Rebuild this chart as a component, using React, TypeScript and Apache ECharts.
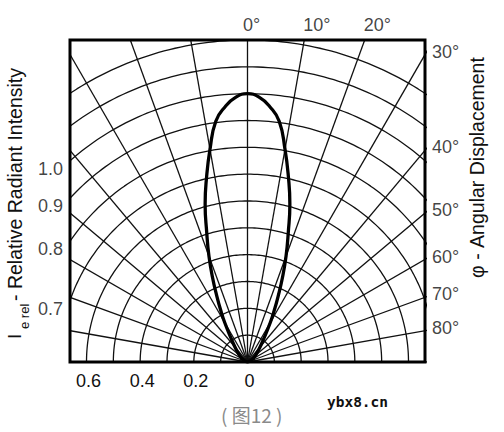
import React, { useEffect, useRef } from "react";
import * as echarts from "echarts";

// ---- data ----
const radii = [0.1, 0.2, 0.3, 0.4, 0.5, 0.6, 0.7, 0.8, 0.9, 1.0, 1.1, 1.2];
const angleTicks = [-90, -80, -70, -60, -50, -40, -30, -20, -10, 0, 10, 20, 30, 40, 50, 60, 70, 80, 90];
const lobeAngles = [0, 2.5, 5, 7.5, 10, 12.5, 15, 17.5, 20, 22.5, 25, 27.5, 30, 35, 40, 45, 50, 60, 75, 90];
const lobeIntensity = [1.0, 0.988, 0.955, 0.905, 0.805, 0.705, 0.61, 0.505, 0.42, 0.34, 0.27, 0.215, 0.17, 0.105, 0.072, 0.052, 0.04, 0.022, 0.008, 0];
const leftLabels = [1.0, 0.9, 0.8, 0.7];
const bottomLabels = [0.6, 0.4, 0.2, 0];
const topAngleLabels = [0, 10, 20];
const rightAngleLabels = [30, 40, 50, 60, 70, 80];

const XR = 0.6615;
const YR = 1.2;
const rad = (d: number) => (d * Math.PI) / 180;
const pol = (r: number, deg: number) => [r * Math.sin(rad(deg)), r * Math.cos(rad(deg))];

export default function App() {
  const ref = useRef<HTMLDivElement>(null);
  useEffect(() => {
    if (!ref.current) return;
    const chart = echarts.init(ref.current, undefined, { renderer: "svg" });

    const series: any[] = [];
    // arcs
    radii.forEach((r) => {
      const pts: number[][] = [];
      for (let a = -90; a <= 90; a += 1) pts.push(pol(r, a));
      series.push({
        type: "line", data: pts, symbol: "none", silent: true, clip: true,
        lineStyle: { color: "#111", width: 1.3 }, z: 2,
      });
    });
    // radial lines
    angleTicks.forEach((a) => {
      series.push({
        type: "line", data: [[0, 0], pol(2, a)], symbol: "none", silent: true, clip: true,
        lineStyle: { color: "#111", width: 1.3 }, z: 2,
      });
    });
    // lobe
    const lobe: number[][] = [];
    for (let i = lobeAngles.length - 1; i > 0; i--) lobe.push(pol(lobeIntensity[i], -lobeAngles[i]));
    for (let i = 0; i < lobeAngles.length; i++) lobe.push(pol(lobeIntensity[i], lobeAngles[i]));
    series.push({
      type: "line", data: lobe, symbol: "none", smooth: 0.5, clip: true,
      lineStyle: { color: "#000", width: 3.3 }, z: 5,
    });
    const labelFont = { fontSize: 18, color: "#111", fontFamily: "Liberation Sans, Arial, sans-serif" };
    // left intensity labels
    series.push({
      type: "scatter", symbolSize: 0, clip: false, silent: true,
      data: leftLabels.map((v) => ({
        value: [-XR, Math.sqrt(Math.max(0, v * v - XR * XR))],
        label: { show: true, position: "left", distance: 7, offset: [0, 8], formatter: v.toFixed(1), ...labelFont },
      })),
    });
    // top angle labels
    series.push({
      type: "scatter", symbolSize: 0, clip: false, silent: true,
      data: topAngleLabels.map((a) => ({
        value: [YR * Math.tan(rad(a)), YR],
        label: { show: true, position: "top", distance: 6, align: "left", offset: [a === 0 ? -4.5 : -1, 0], formatter: a + "°", ...labelFont },
      })),
    });
    // right angle labels
    series.push({
      type: "scatter", symbolSize: 0, clip: false, silent: true,
      data: rightAngleLabels.map((a) => ({
        value: [XR, XR / Math.tan(rad(a))],
        label: { show: true, position: "right", distance: 7, offset: [0, -3], formatter: a + "°", ...labelFont },
      })),
    });

    chart.setOption({
      animation: false,
      backgroundColor: "#fff",
      grid: { left: 70, top: 40, width: 355, height: 322, show: true, borderColor: "#000", borderWidth: 3, backgroundColor: "transparent", z: 10 },
      xAxis: {
        type: "value", min: -XR, max: XR,
        axisLine: { show: false }, axisTick: { show: false }, splitLine: { show: false },
        axisLabel: {
          customValues: bottomLabels.map((v) => -v),
          formatter: (v: number) => String(Math.abs(Math.round(v * 10) / 10)),
          margin: 10, padding: [0, 0, 0, 4], ...labelFont,
        },
      },
      yAxis: { type: "value", min: 0, max: YR, show: false },
      graphic: [
        { type: "text", x: 14.5, y: 339, rotation: Math.PI / 2, style: { text: "I", fontSize: 19, fill: "#111", fontFamily: "Liberation Sans, Arial, sans-serif", align: "left", verticalAlign: "middle" } },
        { type: "text", x: 24.5, y: 329, rotation: Math.PI / 2, style: { text: "e rel", fontSize: 13, fill: "#111", fontFamily: "Liberation Sans, Arial, sans-serif", align: "left", verticalAlign: "middle" } },
        { type: "text", x: 14.5, y: 301, rotation: Math.PI / 2, style: { text: "- Relative Radiant Intensity", fontSize: 19.5, fill: "#111", fontFamily: "Liberation Sans, Arial, sans-serif", align: "left", verticalAlign: "middle" } },
        { type: "text", x: 476.5, y: 167.5, rotation: Math.PI / 2, style: { text: "φ - Angular Displacement", fontSize: 19.5, fill: "#111", fontFamily: "Liberation Sans, Arial, sans-serif", align: "center", verticalAlign: "middle" } },
        { type: "text", x: 251.7, y: 414, style: { text: "( 图12 )", fontSize: 19, fill: "#8a8a8a", fontFamily: "Noto Sans CJK SC", align: "center", verticalAlign: "middle" } },
        { type: "text", x: 357.5, y: 402, style: { text: "ybx8.cn", fontSize: 14.5, fontWeight: "bold", fill: "#111", fontFamily: "DejaVu Sans Mono, monospace", align: "center", verticalAlign: "middle" } },
      ],
      series,
    });
    return () => chart.dispose();
  }, []);
  return <div ref={ref} style={{ position: "absolute", left: 0, top: 0, width: 504, height: 432, background: "#fff" }} />;
}
